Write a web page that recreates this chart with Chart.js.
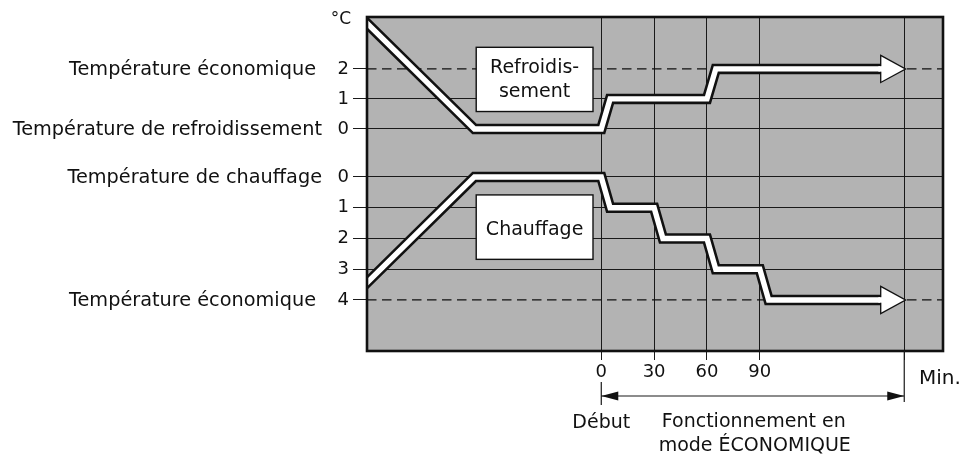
<!DOCTYPE html>
<html lang="fr">
<head>
    <meta charset="UTF-8">
    <title>Fonctionnement en mode ÉCONOMIQUE</title>
    <script src="https://cdn.jsdelivr.net/npm/chart.js"></script>
    <style>
        html, body {
            margin: 0;
            padding: 0;
            background: #fff;
        }

        .chart-container {
            width: 963px;
            height: 454px;
        }
    </style>
</head>
<body>

    <div class="chart-container">
        <canvas id="ecoChart"></canvas>
    </div>

    <script>
        // Temps en minutes depuis le début du mode ÉCONOMIQUE
        const coolMinutes = [-150, -72, 0, 5, 60, 65, 159];
        const coolLevels = [4.5, 0, 0, 1, 1, 2, 2];

        const heatMinutes = [-150, -72, 0, 5, 30, 35, 60, 65, 90, 95, 159];
        const heatLevels = [4.4, 0, 0, 1, 1, 2, 2, 3, 3, 4, 4];

        const minuteTicks = [0, 30, 60, 90];
        const ecoEnd = 172;          // fin de la plage ÉCONOMIQUE (pointe des flèches)

        const coolTicks = [0, 1, 2];
        const heatTicks = [0, 1, 2, 3, 4];
        const coolEco = 2;
        const heatEco = 4;

        const xRange = [-133, 194];
        const coolRange = [-7.4, 3.73];
        const heatRange = [-5.2, 5.66];

        const FONT = '"DejaVu Sans", sans-serif';
        const INK = '#111';
        const GRID = '#1a1a1a';
        const TICK_LEN = 14;
        const TICK_PAD = 4;

        const toPoints = (xs, ys) => xs.map((x, i) => ({ x: x, y: ys[i] }));

        // Étiquettes à gauche de l'axe
        const sideLabels = [
            { axis: 'yCool', value: coolEco, text: 'Température économique', right: 316 },
            { axis: 'yCool', value: 0, text: 'Température de refroidissement', right: 322 },
            { axis: 'yHeat', value: 0, text: 'Température de chauffage', right: 322 },
            { axis: 'yHeat', value: heatEco, text: 'Température économique', right: 316 }
        ];

        // Cadres blancs
        const boxes = [
            { axis: 'yCool', x0: -71, x1: -4.7, y0: 2.72, y1: 0.58, lines: ['Refroidis-', 'sement'], base: [-6.8, 17.8] },
            { axis: 'yHeat', x0: -71, x1: -4.7, y0: 0.585, y1: 2.68, lines: ['Chauffage'], base: [7.8] }
        ];

        function drawText(ctx, str, x, y, align, size) {
            ctx.font = size + 'px ' + FONT;
            ctx.textAlign = align;
            ctx.textBaseline = 'alphabetic';
            ctx.fillStyle = INK;
            ctx.fillText(str, x, y);
        }

        const diagramPlugin = {
            id: 'diagram',
            beforeDraw(chart) {
                const { ctx, chartArea: a } = chart;
                ctx.save();
                ctx.fillStyle = '#b3b3b3';
                ctx.fillRect(a.left, a.top, a.right - a.left, a.bottom - a.top);
                ctx.restore();
            },
            afterDatasetsDraw(chart) {
                const { ctx, chartArea: a, scales } = chart;
                const xs = scales.x;
                ctx.save();

                // pointes de flèche au bout des deux courbes
                chart.data.datasets.forEach((ds, i) => {
                    if (!ds.arrow) return;
                    const pts = chart.getDatasetMeta(i).data;
                    const last = pts[pts.length - 1];
                    const bx = last.x, y = last.y;
                    const tx = xs.getPixelForValue(ecoEnd);
                    ctx.beginPath();
                    ctx.moveTo(bx, y - 12.5);
                    ctx.lineTo(tx, y);
                    ctx.lineTo(bx, y + 12.5);
                    ctx.closePath();
                    ctx.lineJoin = 'miter';
                    ctx.lineWidth = 2.6;
                    ctx.strokeStyle = INK;
                    ctx.stroke();
                    ctx.fillStyle = '#fff';
                    ctx.fill();
                    ctx.fillRect(bx - 3, y - 2.75, 6, 5.5);
                });

                // cadres avec texte
                boxes.forEach(b => {
                    const ys = scales[b.axis];
                    const l = xs.getPixelForValue(b.x0), r = xs.getPixelForValue(b.x1);
                    const t = ys.getPixelForValue(b.y0), bt = ys.getPixelForValue(b.y1);
                    ctx.fillStyle = '#fff';
                    ctx.fillRect(l, t, r - l, bt - t);
                    ctx.lineWidth = 1.4;
                    ctx.strokeStyle = INK;
                    ctx.strokeRect(l, t, r - l, bt - t);
                    const cy = (t + bt) / 2;
                    b.lines.forEach((s, k) => drawText(ctx, s, (l + r) / 2, cy + b.base[k], 'center', 19));
                });

                // contour de la zone grise
                ctx.lineWidth = 2.6;
                ctx.strokeStyle = INK;
                ctx.strokeRect(a.left, a.top, a.right - a.left, a.bottom - a.top);
                ctx.restore();
            },
            afterDraw(chart) {
                const { ctx, chartArea: a, scales } = chart;
                const xs = scales.x;
                ctx.save();

                // graduations de l'axe chauffage (sa boîte a une largeur nulle)
                const yh = scales.yHeat;
                ctx.font = '18px ' + FONT;
                ctx.textAlign = 'right';
                ctx.textBaseline = 'middle';
                ctx.fillStyle = INK;
                yh.ticks.forEach(t => {
                    ctx.fillText(String(t.value), a.left - TICK_LEN - TICK_PAD, yh.getPixelForValue(t.value));
                });

                sideLabels.forEach(lb => {
                    const y = scales[lb.axis].getPixelForValue(lb.value);
                    drawText(ctx, lb.text, lb.right, y + 6.5, 'right', 19.3);
                });

                drawText(ctx, '°C', 351, 24, 'right', 17);

                // plage de fonctionnement ÉCONOMIQUE
                const x0 = xs.getPixelForValue(0);
                const x1 = xs.getPixelForValue(ecoEnd);
                const ay = 396;
                ctx.strokeStyle = GRID;
                ctx.fillStyle = INK;
                ctx.lineWidth = 1.2;
                ctx.beginPath();
                ctx.moveTo(x1, a.bottom);
                ctx.lineTo(x1, 402);
                ctx.moveTo(x0, 382);
                ctx.lineTo(x0, 405);
                ctx.moveTo(x0, ay);
                ctx.lineTo(x1, ay);
                ctx.stroke();
                ctx.beginPath();
                ctx.moveTo(x0, ay);
                ctx.lineTo(x0 + 17, ay - 4.5);
                ctx.lineTo(x0 + 17, ay + 4.5);
                ctx.closePath();
                ctx.moveTo(x1, ay);
                ctx.lineTo(x1 - 17, ay - 4.5);
                ctx.lineTo(x1 - 17, ay + 4.5);
                ctx.closePath();
                ctx.fill();

                drawText(ctx, 'Min.', 919, 384, 'left', 20);
                drawText(ctx, 'Début', x0, 428, 'center', 19);
                const mid = (x0 + x1) / 2;
                drawText(ctx, 'Fonctionnement en', mid + 1, 427, 'center', 19);
                drawText(ctx, 'mode ÉCONOMIQUE', mid + 2, 451, 'center', 19);
                ctx.restore();
            }
        };

        const bandOutline = { borderColor: INK, borderWidth: 10.5, pointRadius: 0, borderJoinStyle: 'miter', borderCapStyle: 'butt', tension: 0, clip: 0 };
        const bandFill = { borderColor: '#fff', borderWidth: 5.4, pointRadius: 0, borderJoinStyle: 'miter', borderCapStyle: 'butt', tension: 0, clip: 0 };
        const dashed = { borderColor: INK, borderWidth: 1.3, borderDash: [9.5, 5.5], pointRadius: 0, clip: 0 };

        const ctx = document.getElementById('ecoChart').getContext('2d');
        const ecoChart = new Chart(ctx, {
            type: 'line',
            data: {
                datasets: [
                    Object.assign({ data: toPoints(xRange, [coolEco, coolEco]), yAxisID: 'yCool', order: 5 }, dashed),
                    Object.assign({ data: toPoints(xRange, [heatEco, heatEco]), yAxisID: 'yHeat', order: 5 }, dashed),
                    Object.assign({ label: 'Refroidissement', data: toPoints(coolMinutes, coolLevels), yAxisID: 'yCool', order: 3 }, bandOutline),
                    Object.assign({ label: 'Chauffage', data: toPoints(heatMinutes, heatLevels), yAxisID: 'yHeat', order: 3 }, bandOutline),
                    Object.assign({ label: 'Refroidissement', data: toPoints(coolMinutes, coolLevels), yAxisID: 'yCool', order: 1, arrow: true }, bandFill),
                    Object.assign({ label: 'Chauffage', data: toPoints(heatMinutes, heatLevels), yAxisID: 'yHeat', order: 1, arrow: true }, bandFill)
                ]
            },
            options: {
                responsive: true,
                maintainAspectRatio: false,
                animation: false,
                devicePixelRatio: 1,
                layout: { padding: { top: 17, right: 20, left: 0, bottom: 0 } },
                plugins: {
                    legend: { display: false },
                    tooltip: { enabled: false }
                },
                scales: {
                    x: {
                        type: 'linear',
                        position: 'bottom',
                        min: xRange[0],
                        max: xRange[1],
                        afterBuildTicks: s => { s.ticks = minuteTicks.concat([ecoEnd]).map(v => ({ value: v })); },
                        afterFit: s => { s.height = 103; },
                        ticks: {
                            autoSkip: false,
                            maxRotation: 0,
                            padding: 2,
                            color: INK,
                            font: { family: FONT, size: 18 },
                            callback: v => minuteTicks.includes(v) ? String(v) : ''
                        },
                        grid: { color: GRID, lineWidth: 1, tickLength: 9, tickColor: GRID },
                        border: { display: false }
                    },
                    yHeat: {
                        type: 'linear',
                        position: 'left',
                        reverse: true,
                        min: heatRange[0],
                        max: heatRange[1],
                        afterBuildTicks: s => { s.ticks = heatTicks.map(v => ({ value: v })); },
                        afterFit: s => { s.width = 0; },
                        ticks: { display: false },
                        grid: {
                            color: c => (c.tick && c.tick.value === heatEco) ? 'rgba(0,0,0,0)' : GRID,
                            lineWidth: 1,
                            tickLength: TICK_LEN,
                            tickColor: GRID
                        },
                        border: { display: false }
                    },
                    yCool: {
                        type: 'linear',
                        position: 'left',
                        min: coolRange[0],
                        max: coolRange[1],
                        afterBuildTicks: s => { s.ticks = coolTicks.map(v => ({ value: v })); },
                        afterFit: s => { s.width = 367; },
                        ticks: { padding: TICK_PAD, color: INK, font: { family: FONT, size: 18 } },
                        grid: {
                            color: c => (c.tick && c.tick.value === coolEco) ? 'rgba(0,0,0,0)' : GRID,
                            lineWidth: 1,
                            tickLength: TICK_LEN,
                            tickColor: GRID
                        },
                        border: { display: false }
                    }
                }
            },
            plugins: [diagramPlugin]
        });
    </script>

</body>
</html>
